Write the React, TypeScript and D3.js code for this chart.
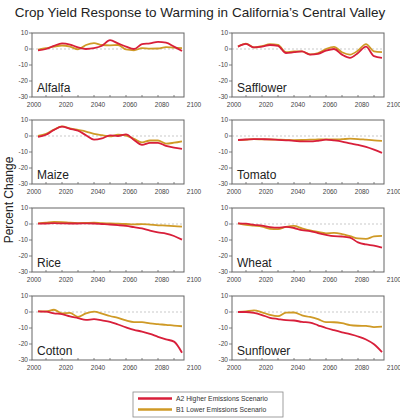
import * as d3 from 'd3';

const years = d3.range(2005, 2096, 5);

const crops = ['Alfalfa', 'Safflower', 'Maize', 'Tomato', 'Rice', 'Wheat', 'Cotton', 'Sunflower'];

// A2 higher emissions (red)
const a2Alfalfa = [-0.8, 0, 2.0, 3.5, 2.8, 1.0, 0.0, 0.5, 2.0, 5.5, 3.5, 1.5, 0, 3.0, 3.5, 4.5, 4.0, 1.5, -1.2];
const a2Safflower = [1.5, 3.2, 1.0, 1.5, 2.5, 2.0, -2.5, -2.0, -1.5, -3.5, -3.0, -1.0, 0, -3.5, -5.5, -2.5, 1.5, -4.5, -5.5];
const a2Maize = [-0.6, 0.8, 3.8, 5.8, 4.5, 3.3, 0.5, -2.3, -1.5, 0.4, 0, 1, -2.5, -5.5, -4.3, -4.3, -6.2, -7.3, -8];
const a2Tomato = [-2.5, -2.2, -1.9, -2.0, -2.1, -2.4, -2.7, -3.0, -3.4, -3.4, -3.0, -2.3, -2.8, -3.5, -4.6, -5.6, -6.8, -8.5, -10.5];
const a2Rice = [0.2, 0.3, 0.5, 0.4, 0.3, 0.3, 0.4, 0.3, 0, -0.3, -0.7, -1.2, -2, -2.8, -4.2, -5.3, -6.0, -7.5, -9.8];
const a2Wheat = [0.4, 0.2, -0.5, -1.0, -1.9, -2.3, -1.8, -2.5, -3.8, -4.4, -5.7, -6.8, -7.6, -7.8, -8.5, -11.5, -12.8, -13.5, -14.7];
const a2Cotton = [0.4, 0.2, -0.8, -1.4, -2.8, -3.8, -4.9, -4.5, -5.3, -6.1, -7.8, -9.6, -11.2, -12.2, -13.7, -15.5, -17.1, -18.5, -25.5];
const a2Sunflower = [0, 0, -0.6, -1.9, -3.6, -4.4, -5.1, -5.3, -6.2, -6.6, -8.3, -10.0, -11.4, -12.7, -13.9, -15.3, -17.2, -20.2, -25.1];

// B1 lower emissions (gold)
const b1Alfalfa = [-0.4, 0.5, 1.5, 2.2, 1.5, -0.2, 2.5, 3.7, 2.5, 2.3, 2.5, -0.3, -0.8, 0.5, 0.2, 0.3, 1.2, 0.8, 0.6];
const b1Safflower = [1.5, 3.3, 1.0, 1.8, 3.0, 2.5, -2.0, -1.5, -1.5, -3.3, -2.5, 0, 1.3, -2.0, -3.5, -1.0, 3.0, -1.5, -2.0];
const b1Maize = [0, 1.3, 4.0, 6.0, 4.8, 3.8, 2.8, 1.4, 0.5, -0.2, 0.8, 0.3, -1.8, -4.0, -2.8, -2.8, -4.8, -4.2, -3.3];
const b1Tomato = [-2.5, -2.3, -2.0, -2.1, -2.2, -2.3, -2.4, -2.6, -2.5, -2.3, -2.2, -2.1, -2.2, -2.0, -1.7, -1.9, -2.3, -2.7, -3.0];
const b1Rice = [0.4, 0.9, 1.3, 1.2, 0.8, 0.6, 0.7, 0.8, 0.5, 0.4, 0.2, 0, -0.2, -0.1, -0.4, -0.8, -1.0, -1.3, -1.7];
const b1Wheat = [0.4, -0.5, -1.0, -1.6, -3.0, -3.2, -1.8, -1.2, -2.7, -4.0, -5.0, -5.8, -5.6, -6.3, -7.6, -9.0, -9.3, -7.8, -7.4];
const b1Cotton = [0.4, 0.4, 1.4, -0.8, -0.6, -3.0, -0.8, 0.2, -1.0, -2.5, -3.7, -5.3, -6.3, -6.3, -7.1, -7.6, -8.0, -8.5, -8.9];
const b1Sunflower = [0, 0.4, 1.0, -0.2, -1.8, -2.6, -0.4, -0.3, -2.1, -3.1, -4.5, -6.3, -6.4, -7.0, -8.2, -8.6, -8.7, -9.4, -9.1];

const a2Series = [a2Alfalfa, a2Safflower, a2Maize, a2Tomato, a2Rice, a2Wheat, a2Cotton, a2Sunflower];
const b1Series = [b1Alfalfa, b1Safflower, b1Maize, b1Tomato, b1Rice, b1Wheat, b1Cotton, b1Sunflower];

const yTicks = [10, 0, -10, -20, -30];
const xTickLabels = [2000, 2020, 2040, 2060, 2080, 2100];
const legendLabels = ['A2 Higher Emissions Scenario', 'B1 Lower Emissions Scenario'];

const RED = '#d81f3a';
const GOLD = '#cf9a26';
const FONT = 'Arial, "Liberation Sans", sans-serif';

const colX = [32, 232];
const rowY = [33, 120, 208, 296];
const boxW = 152;
const boxH = 64;

function Panel({ idx }: { idx: number }) {
  const x0 = colX[idx % 2];
  const y0 = rowY[Math.floor(idx / 2)];
  const x = d3.scaleLinear().domain([2000, 2100]).range([x0 - 2, x0 + 158]);
  const y = d3.scaleLinear().domain([-30, 10]).range([y0 + boxH, y0]);
  const line = d3.line<number>()
    .x((_, i) => x(years[i]))
    .y(d => y(d))
    .curve(d3.curveMonotoneX);

  return (
    <g>
      <line x1={x0} x2={x0 + boxW} y1={y(0)} y2={y(0)} stroke="#bbb" strokeWidth={0.8} strokeDasharray="2,2" />
      <path d={line(b1Series[idx]) ?? ''} fill="none" stroke={GOLD} strokeWidth={1.8} />
      <path d={line(a2Series[idx]) ?? ''} fill="none" stroke={RED} strokeWidth={1.8} />
      <rect x={x0} y={y0} width={boxW} height={boxH} fill="none" stroke="#666" strokeWidth={1} />
      {yTicks.map(t => (
        <g key={t}>
          <line x1={x0 - 3} x2={x0} y1={y(t)} y2={y(t)} stroke="#666" strokeWidth={0.8} />
          <text x={x0 - 4} y={y(t)} dy="0.35em" textAnchor="end" fontSize={6.5} fill="#444" fontFamily={FONT}>{t}</text>
        </g>
      ))}
      {d3.range(2010, 2100, 10).map(t => (
        <line key={t} x1={x(t)} x2={x(t)} y1={y0 + boxH} y2={y0 + boxH - 2} stroke="#666" strokeWidth={0.8} />
      ))}
      {xTickLabels.map(t => (
        <text key={t} x={x(t) + 4} y={y0 + boxH + 10} textAnchor="middle" fontSize={6.5} fill="#444" fontFamily={FONT}>{t}</text>
      ))}
      <text x={x0 + 5} y={y0 + boxH - 5} fontSize={12} fill="#222" fontFamily={FONT}>{crops[idx]}</text>
    </g>
  );
}

export default function App() {
  return (
    <svg width={400} height={420} style={{ position: 'absolute', left: 0, top: 0, background: '#fff' }}>
      <text x={200} y={17} textAnchor="middle" fontSize={13.5} fill="#222" fontFamily={FONT}>
        Crop Yield Response to Warming in California’s Central Valley
      </text>
      <text transform="translate(13,200) rotate(-90)" textAnchor="middle" fontSize={12} fill="#222" fontFamily={FONT}>
        Percent Change
      </text>
      {crops.map((c, i) => <Panel key={c} idx={i} />)}
      <rect x={133} y={392} width={150} height={25} fill="#fff" stroke="#888" strokeWidth={0.8} />
      {legendLabels.map((l, i) => (
        <g key={l}>
          <line x1={138} x2={172} y1={398.5 + i * 11} y2={398.5 + i * 11} stroke={i === 0 ? RED : GOLD} strokeWidth={2.5} />
          <text x={176} y={398.5 + i * 11} dy="0.35em" fontSize={6.8} fill="#333" fontFamily={FONT}>{l}</text>
        </g>
      ))}
    </svg>
  );
}
